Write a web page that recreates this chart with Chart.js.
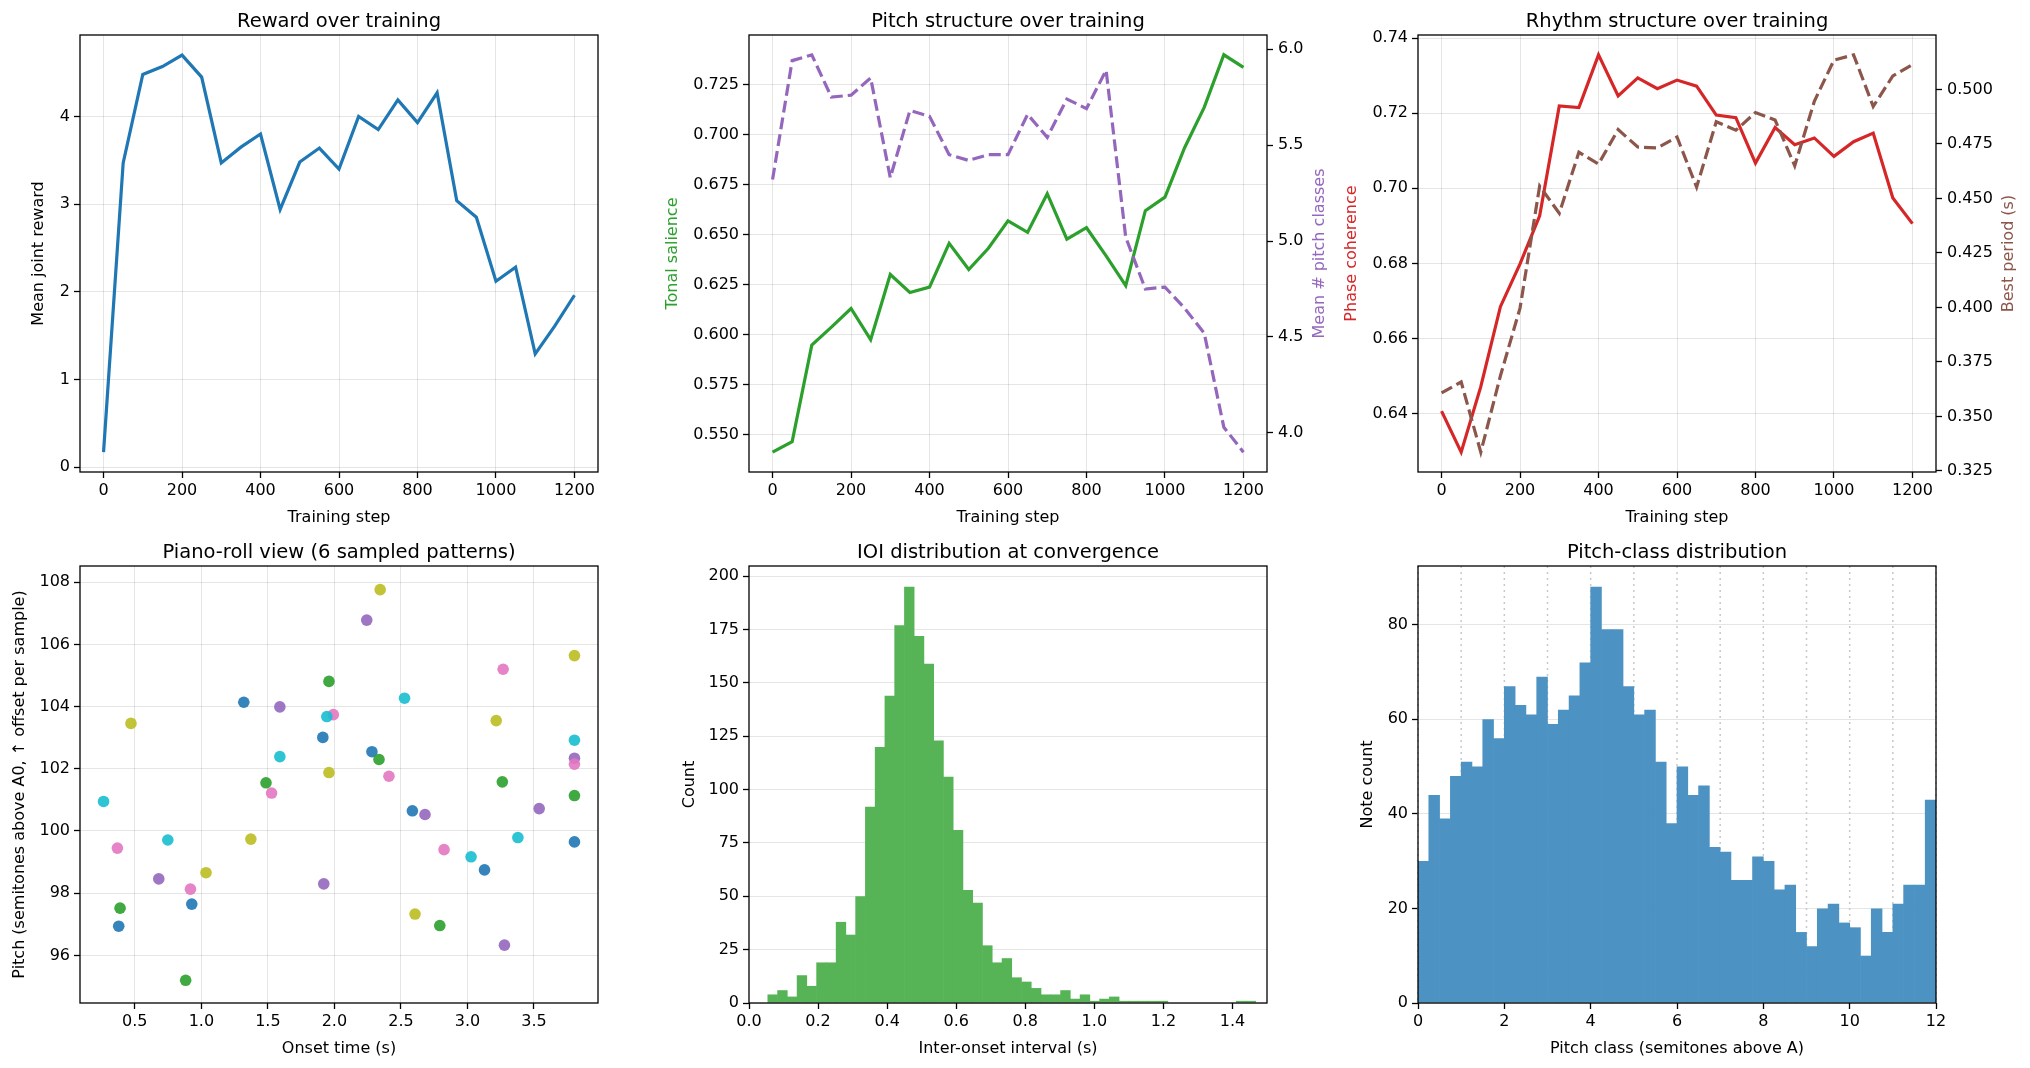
<!DOCTYPE html>
<html>
<head>
<meta charset="utf-8">
<title>Training diagnostics</title>
<script src="https://cdn.jsdelivr.net/npm/chart.js@4.4.1/dist/chart.umd.min.js"></script>
<style>
  html, body { margin: 0; padding: 0; background: #fff; }
  body { width: 2030px; height: 1068px; position: relative; overflow: hidden; }
  canvas { position: absolute; }
</style>
</head>
<body>
<canvas id="reward"></canvas>
<canvas id="pitch"></canvas>
<canvas id="rhythm"></canvas>
<canvas id="roll"></canvas>
<canvas id="ioi"></canvas>
<canvas id="pc"></canvas>
<script>
// ---- values ----
const steps = [0, 50, 100, 150, 200, 250, 300, 350, 400, 450, 500, 550, 600,
               650, 700, 750, 800, 850, 900, 950, 1000, 1050, 1100, 1150, 1200];
const reward = [0.17, 3.47, 4.48, 4.57, 4.70, 4.45, 3.47, 3.65, 3.80, 2.94, 3.48, 3.64, 3.40,
                4.00, 3.85, 4.19, 3.93, 4.27, 3.04, 2.85, 2.12, 2.28, 1.29, 1.61, 1.96];
const tonalSalience = [0.5413, 0.5466, 0.5949, 0.6039, 0.6132, 0.5976, 0.6302, 0.6212, 0.6239,
                       0.6458, 0.6327, 0.6433, 0.6570, 0.6513, 0.6706, 0.6479, 0.6536, 0.6395,
                       0.6246, 0.6621, 0.6689, 0.6936, 0.7138, 0.7401, 0.7338];
const pitchClasses = [5.32, 5.94, 5.97, 5.75, 5.76, 5.85, 5.33, 5.68, 5.65, 5.45, 5.42, 5.45, 5.45,
                      5.66, 5.54, 5.74, 5.69, 5.89, 5.02, 4.75, 4.76, 4.65, 4.52, 4.03, 3.90];
const phaseCoherence = [0.6407, 0.6298, 0.6472, 0.6685, 0.6799, 0.6927, 0.7219, 0.7215, 0.7355,
                        0.7246, 0.7294, 0.7265, 0.7288, 0.7272, 0.7195, 0.7188, 0.7067, 0.7162,
                        0.7116, 0.7134, 0.7085, 0.7124, 0.7147, 0.6974, 0.6906];
const bestPeriod = [0.3608, 0.3658, 0.3336, 0.3686, 0.3997, 0.4557, 0.4432, 0.4712, 0.4658,
                    0.4816, 0.4736, 0.4732, 0.4782, 0.4552, 0.4852, 0.4813, 0.4894, 0.4860,
                    0.4650, 0.4946, 0.5135, 0.5159, 0.4922, 0.5062, 0.5114];

// piano roll: one row per sampled pattern
const sampleOnsets = [
  [0.379, 0.928, 1.319, 1.913, 2.282, 2.586, 3.128, 3.804],
  [0.389, 0.882, 1.486, 1.959, 2.335, 2.792, 3.262, 3.804],
  [0.680, 1.590, 1.920, 2.243, 2.681, 3.278, 3.539, 3.804],
  [0.369, 0.918, 1.528, 1.992, 2.410, 2.824, 3.268, 3.804],
  [0.471, 1.035, 1.372, 1.959, 2.344, 2.606, 3.216, 3.804],
  [0.265, 0.748, 1.590, 1.943, 2.527, 3.027, 3.379, 3.804]
];
const samplePitches = [
  [96.94, 97.65, 104.14, 103.01, 102.55, 100.65, 98.75, 99.65],
  [97.52, 95.20, 101.55, 104.81, 102.30, 96.96, 101.58, 101.14],
  [98.46, 103.99, 98.30, 106.78, 100.53, 96.33, 100.72, 102.34],
  [99.45, 98.13, 101.22, 103.74, 101.76, 99.40, 105.20, 102.15],
  [103.46, 98.66, 99.74, 101.88, 107.76, 97.33, 103.55, 105.64],
  [100.95, 99.71, 102.39, 103.68, 104.27, 99.17, 99.79, 102.92]
];
const sampleColors = ['#1f77b4', '#2ca02c', '#9467bd', '#e377c2', '#bcbd22', '#17becf'];

// IOI histogram (50 bins)
const ioiBinStart = 0.0544;
const ioiBinWidth = 0.02826;
const ioiCounts = [4, 6, 3, 13, 8, 19, 19, 38, 32, 50,
                   92, 120, 144, 177, 195, 172, 159, 123, 106, 81,
                   53, 47, 27, 19, 21, 12, 10, 7, 4, 4,
                   6, 2, 4, 1, 2, 3, 1, 1, 1, 1,
                   1, 0, 0, 0, 0, 0, 0, 0, 1, 1];

// pitch-class histogram (48 bins over 0..12)
const pcBinStart = 0;
const pcBinWidth = 0.25;
const pcCounts = [30, 44, 39, 48, 51, 50, 60, 56, 67, 63, 61, 69,
                  59, 62, 65, 72, 88, 79, 79, 67, 61, 62, 51, 38,
                  50, 44, 46, 33, 32, 26, 26, 31, 30, 24, 25, 15,
                  12, 20, 21, 17, 16, 10, 20, 15, 21, 25, 25, 43];
const semitoneGuides = [0, 1, 2, 3, 4, 5, 6, 7, 8, 9, 10, 11, 12];

// tick labels
const stepTicks = [0, 200, 400, 600, 800, 1000, 1200];
const rewardTicks = [0, 1, 2, 3, 4];
const salienceTicks = [0.550, 0.575, 0.600, 0.625, 0.650, 0.675, 0.700, 0.725];
const pitchCountTicks = [4.0, 4.5, 5.0, 5.5, 6.0];
const coherenceTicks = [0.64, 0.66, 0.68, 0.70, 0.72, 0.74];
const periodTicks = [0.325, 0.350, 0.375, 0.400, 0.425, 0.450, 0.475, 0.500];
const onsetTicks = [0.5, 1.0, 1.5, 2.0, 2.5, 3.0, 3.5];
const pitchTicks = [96, 98, 100, 102, 104, 106, 108];
const ioiTicks = [0.0, 0.2, 0.4, 0.6, 0.8, 1.0, 1.2, 1.4];
const countTicks = [0, 25, 50, 75, 100, 125, 150, 175, 200];
const pcTicks = [0, 2, 4, 6, 8, 10, 12];
const noteCountTicks = [0, 20, 40, 60, 80];

// ---- layout ----
Chart.defaults.font.family = '"DejaVu Sans"';
Chart.defaults.font.size = 16;
Chart.defaults.color = '#000';

const COLS = [80, 749, 1418];
const ROWS = [35, 566];
const PW = 518, PH = 437;
const ML = 95, MR = 95, MT = 35, MB = 62;
const GRID = 'rgba(0,0,0,0.1)';
const LW = 3.2;

// title, axis labels and the box around the axes
const frame = {
  id: 'frame',
  beforeDatasetsDraw(chart, args, opts) {
    if (!opts.guides) return;
    const {ctx, chartArea: a, scales: {x}} = chart;
    ctx.save();
    ctx.strokeStyle = '#c8c8c8';
    ctx.lineWidth = 1.5;
    ctx.setLineDash([2, 4]);
    for (const v of opts.guides) {
      const px = x.getPixelForValue(v);
      ctx.beginPath();
      ctx.moveTo(px, a.top);
      ctx.lineTo(px, a.bottom);
      ctx.stroke();
    }
    ctx.restore();
  },
  afterDraw(chart, args, opts) {
    const {ctx, chartArea: a} = chart;
    ctx.save();
    ctx.strokeStyle = '#000';
    ctx.lineWidth = 1.3;
    ctx.strokeRect(a.left, a.top, a.right - a.left, a.bottom - a.top);
    ctx.textAlign = 'center';
    ctx.textBaseline = 'alphabetic';
    ctx.fillStyle = '#000';
    ctx.font = '19.5px "DejaVu Sans"';
    ctx.fillText(opts.title, (a.left + a.right) / 2, a.top - 7.6);
    ctx.font = '16px "DejaVu Sans"';
    ctx.fillText(opts.xLabel, (a.left + a.right) / 2, a.bottom + 50);
    const midY = (a.top + a.bottom) / 2;
    const side = (text, x, color) => {
      ctx.save();
      ctx.translate(x, midY);
      ctx.rotate(-Math.PI / 2);
      ctx.fillStyle = color;
      ctx.fillText(text, 0, 0);
      ctx.restore();
    };
    side(opts.yLabel, a.left - opts.yOffset + 5, opts.yColor || '#000');
    if (opts.y2Label) side(opts.y2Label, a.right + opts.y2Offset + 5, opts.y2Color);
    ctx.restore();
  }
};

function axis(min, max, ticks, fmt, o) {
  o = o || {};
  const s = {
    type: 'linear',
    min: min,
    max: max,
    position: o.position,
    afterBuildTicks: sc => { sc.ticks = ticks.map(v => ({value: v})); },
    ticks: {callback: fmt, padding: o.position === 'right' ? 5 : (o.horizontal ? 3 : 4),
             maxRotation: 0, autoSkip: false, color: '#000'},
    grid: {color: GRID, lineWidth: 1, tickColor: '#000', tickLength: 6, tickWidth: 1.3,
           drawOnChartArea: o.grid !== false, offset: false},
    border: {display: false}
  };
  if (o.horizontal) {
    s.offset = false;
    s.afterFit = sc => { sc.height = MB; };
  } else {
    s.afterFit = sc => { sc.width = o.position === 'right' ? MR : ML; };
  }
  return s;
}

function place(id, col, row, config) {
  const cv = document.getElementById(id);
  const w = ML + PW + MR, h = MT + PH + MB;
  cv.width = w;
  cv.height = h;
  cv.style.width = w + 'px';
  cv.style.height = h + 'px';
  cv.style.left = (COLS[col] - ML) + 'px';
  cv.style.top = (ROWS[row] - MT) + 'px';
  config.options.responsive = false;
  config.options.animation = false;
  config.options.devicePixelRatio = 1;
  config.options.events = [];
  config.options.layout = {padding: {top: MT, left: 0, bottom: 0, right: config.options.scales.y2 ? 0 : MR}};
  config.options.plugins.legend = {display: false};
  config.options.plugins.tooltip = {enabled: false};
  config.plugins = [frame];
  return new Chart(cv.getContext('2d'), config);
}

const pairs = (xs, ys) => xs.map((x, i) => ({x: x, y: ys[i]}));
const bins = (start, width, counts) => counts.map((c, i) => ({x: start + (i + 0.5) * width, y: c}));
const intFmt = v => String(v);
const fixed = n => v => v.toFixed(n);

// ---- Reward over training ----
place('reward', 0, 0, {
  type: 'line',
  data: {datasets: [{data: pairs(steps, reward), borderColor: '#1f77b4', borderWidth: LW,
                     pointRadius: 0, tension: 0}]},
  options: {
    scales: {
      x: axis(-60, 1260, stepTicks, intFmt, {horizontal: true}),
      y: axis(-0.057, 4.93, rewardTicks, intFmt)
    },
    plugins: {frame: {title: 'Reward over training', xLabel: 'Training step',
                      yLabel: 'Mean joint reward', yOffset: 42}}
  }
});

// ---- Pitch structure over training ----
place('pitch', 1, 0, {
  type: 'line',
  data: {datasets: [
    {data: pairs(steps, tonalSalience), yAxisID: 'y', borderColor: '#2ca02c', borderWidth: LW,
     pointRadius: 0, tension: 0, order: 1},
    {data: pairs(steps, pitchClasses), yAxisID: 'y2', borderColor: '#9467bd', borderWidth: LW,
     borderDash: [12, 5], pointRadius: 0, tension: 0, order: 0}
  ]},
  options: {
    scales: {
      x: axis(-60, 1260, stepTicks, intFmt, {horizontal: true}),
      y: axis(0.5314, 0.7500, salienceTicks, fixed(3)),
      y2: axis(3.7965, 6.0735, pitchCountTicks, fixed(1), {position: 'right', grid: false})
    },
    plugins: {frame: {title: 'Pitch structure over training', xLabel: 'Training step',
                      yLabel: 'Tonal salience', yOffset: 77, yColor: '#2ca02c',
                      y2Label: 'Mean # pitch classes', y2Offset: 52, y2Color: '#9467bd'}}
  }
});

// ---- Rhythm structure over training ----
place('rhythm', 2, 0, {
  type: 'line',
  data: {datasets: [
    {data: pairs(steps, phaseCoherence), yAxisID: 'y', borderColor: '#d62728', borderWidth: LW,
     pointRadius: 0, tension: 0, order: 1},
    {data: pairs(steps, bestPeriod), yAxisID: 'y2', borderColor: '#8c564b', borderWidth: LW,
     borderDash: [12, 5], pointRadius: 0, tension: 0, order: 0}
  ]},
  options: {
    scales: {
      x: axis(-60, 1260, stepTicks, intFmt, {horizontal: true}),
      y: axis(0.6245, 0.7408, coherenceTicks, fixed(2)),
      y2: axis(0.3245, 0.5250, periodTicks, fixed(3), {position: 'right', grid: false})
    },
    plugins: {frame: {title: 'Rhythm structure over training', xLabel: 'Training step',
                      yLabel: 'Phase coherence', yOffset: 67, yColor: '#d62728',
                      y2Label: 'Best period (s)', y2Offset: 72, y2Color: '#8c564b'}}
  }
});

// ---- Piano-roll view ----
place('roll', 0, 1, {
  type: 'scatter',
  data: {datasets: sampleOnsets.map((on, i) => ({
    data: pairs(on, samplePitches[i]),
    backgroundColor: sampleColors[i] + 'e6',
    borderWidth: 0,
    pointRadius: 5.8,
    order: sampleOnsets.length - i
  }))},
  options: {
    scales: {
      x: axis(0.088, 3.981, onsetTicks, fixed(1), {horizontal: true}),
      y: axis(94.47, 108.52, pitchTicks, intFmt)
    },
    plugins: {frame: {title: 'Piano-roll view (6 sampled patterns)', xLabel: 'Onset time (s)',
                      yLabel: 'Pitch (semitones above A0, \u2191 offset per sample)', yOffset: 61}}
  }
});

// ---- IOI distribution ----
place('ioi', 1, 1, {
  type: 'bar',
  data: {datasets: [{data: bins(ioiBinStart, ioiBinWidth, ioiCounts), backgroundColor: '#56b356',
                     borderWidth: 0, barPercentage: 1.06, categoryPercentage: 1}]},
  options: {
    scales: {
      x: axis(0, 1.5, ioiTicks, fixed(1), {horizontal: true, grid: false}),
      y: axis(0, 204.75, countTicks, intFmt)
    },
    plugins: {frame: {title: 'IOI distribution at convergence', xLabel: 'Inter-onset interval (s)',
                      yLabel: 'Count', yOffset: 60}}
  }
});

// ---- Pitch-class distribution ----
place('pc', 2, 1, {
  type: 'bar',
  data: {datasets: [{data: bins(pcBinStart, pcBinWidth, pcCounts), backgroundColor: '#4c92c3',
                     borderWidth: 0, barPercentage: 1.06, categoryPercentage: 1}]},
  options: {
    scales: {
      x: axis(0, 12, pcTicks, intFmt, {horizontal: true, grid: false}),
      y: axis(0, 92.4, noteCountTicks, intFmt)
    },
    plugins: {frame: {title: 'Pitch-class distribution', xLabel: 'Pitch class (semitones above A)',
                      yLabel: 'Note count', yOffset: 51, guides: semitoneGuides}}
  }
});
</script>
</body>
</html>
